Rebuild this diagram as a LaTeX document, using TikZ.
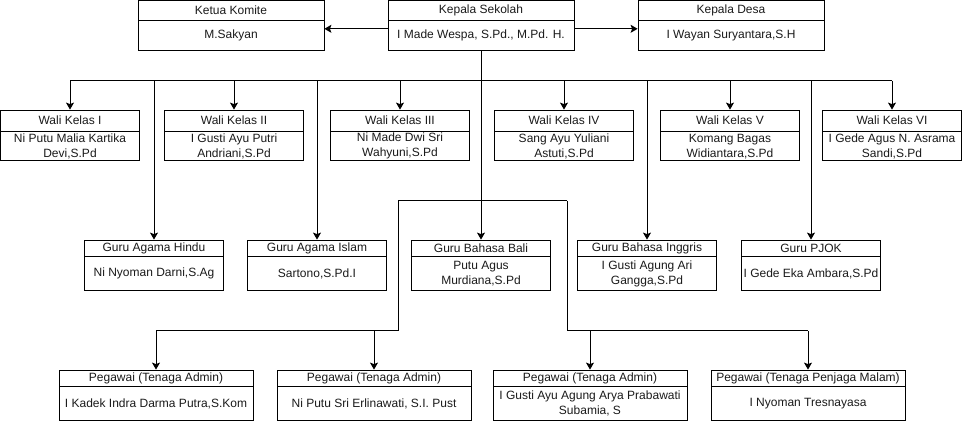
\documentclass[tikz,border=0pt]{standalone}
\usepackage{fontspec}
\setmainfont{Liberation Sans}
\usetikzlibrary{positioning,arrows.meta}
\definecolor{garisan}{HTML}{000000}
\definecolor{tulisan}{HTML}{1A1A1A}

\begin{document}
\begin{tikzpicture}[x=1pt, y=-1pt,
    kotak/.style={draw=garisan, line width=0.8pt, minimum width=#1, inner sep=0pt, align=center,
        text=tulisan, font=\fontsize{12}{15}\selectfont},
    garis/.style={draw=garisan, line width=1pt},
    panah/.style={garis, -{Stealth[length=7pt, width=8pt, inset=1.5pt]}}]
    \useasboundingbox (0,0) rectangle (962,422);

    % pimpinan
    \foreach \n/\x/\h/\b in {komite/231/{Ketua Komite}/{M.Sakyan},
        kepsek/481/{Kepala Sekolah}/{I Made Wespa, S.Pd., M.Pd. H.},
        desa/731/{Kepala Desa}/{I Wayan Suryantara,S.H}}
    {
        \node[kotak=186pt, minimum height=20pt] (\n) at (\x,10) {\h};
        \node[kotak=186pt, minimum height=30pt, below=0pt of \n] (\n-b) {\b};
    }

    % wali kelas
    \foreach \n/\x/\h/\b in {1/70/{Wali Kelas I}/{Ni Putu Malia Kartika\\Devi,S.Pd},
        2/234/{Wali Kelas II}/{I Gusti Ayu Putri\\Andriani,S.Pd},
        3/400/{Wali Kelas III}/{Ni Made Dwi Sri\\Wahyuni,S.Pd},
        4/564/{Wali Kelas IV}/{Sang Ayu Yuliani\\Astuti,S.Pd},
        5/730/{Wali Kelas V}/{Komang Bagas\\Widiantara,S.Pd},
        6/892/{Wali Kelas VI}/{I Gede Agus N. Asrama\\Sandi,S.Pd}}
    {
        \node[kotak=139pt, minimum height=21pt] (wali\n) at (\x,120.5) {\h};
        \node[kotak=139pt, minimum height=29pt, below=0pt of wali\n] (wali\n-b) {\b};
    }

    % guru mata pelajaran
    \foreach \n/\x/\h/\b in {hindu/154/{Guru Agama Hindu}/{Ni Nyoman Darni,S.Ag},
        islam/317/{Guru Agama Islam}/{Sartono,S.Pd.I},
        bali/481/{Guru Bahasa Bali}/{Putu Agus\\Murdiana,S.Pd},
        inggris/647/{Guru Bahasa Inggris}/{I Gusti Agung Ari\\Gangga,S.Pd},
        pjok/811/{Guru PJOK}/{I Gede Eka Ambara,S.Pd}}
    {
        \node[kotak=139pt, minimum height=16pt] (\n) at (\x,248) {\h};
        \node[kotak=139pt, minimum height=34pt, below=0pt of \n] (\n-b) {\b};
    }

    % pegawai
    \foreach \n/\x/\h/\b in {1/156/{Pegawai (Tenaga Admin)}/{I Kadek Indra Darma Putra,S.Kom},
        2/374/{Pegawai (Tenaga Admin)}/{Ni Putu Sri Erlinawati, S.I. Pust},
        3/590/{Pegawai (Tenaga Admin)}/{I Gusti Ayu Agung Arya Prabawati\\Subamia, S},
        4/808/{Pegawai (Tenaga Penjaga Malam)}/{I Nyoman Tresnayasa}}
    {
        \node[kotak=194pt, minimum height=16pt] (peg\n) at (\x,378) {\h};
        \node[kotak=194pt, minimum height=34pt, below=0pt of peg\n] (peg\n-b) {\b};
    }

    \coordinate (bus) at (481,81);
    \coordinate (kiri) at (398,201);
    \coordinate (kanan) at (567,201);
    \coordinate (pbus) at (481,331);

    \draw[panah] ([yshift=7pt]kepsek-b.west) -- ([yshift=7pt]komite-b.east);
    \draw[panah] ([yshift=7pt]kepsek-b.east) -- ([yshift=7pt]desa-b.west);
    \draw[panah] (kepsek-b.south) -- (bali.north);

    \draw[garis] (wali1.north |- bus) -- (wali6.north |- bus);
    \foreach \n in {1,...,6}
        \draw[panah] (wali\n.north |- bus) -- (wali\n.north);
    \foreach \n in {hindu,islam,inggris,pjok}
        \draw[panah] (\n.north |- bus) -- (\n.north);

    \draw[garis] (kiri) -- (kanan);
    \draw[garis] (kiri) -- (kiri |- pbus) -- (peg1.north |- pbus);
    \draw[garis] (kanan) -- (kanan |- pbus) -- (peg4.north |- pbus);
    \foreach \n in {1,...,4}
        \draw[panah] (peg\n.north |- pbus) -- (peg\n.north);

\end{tikzpicture}
\end{document}
